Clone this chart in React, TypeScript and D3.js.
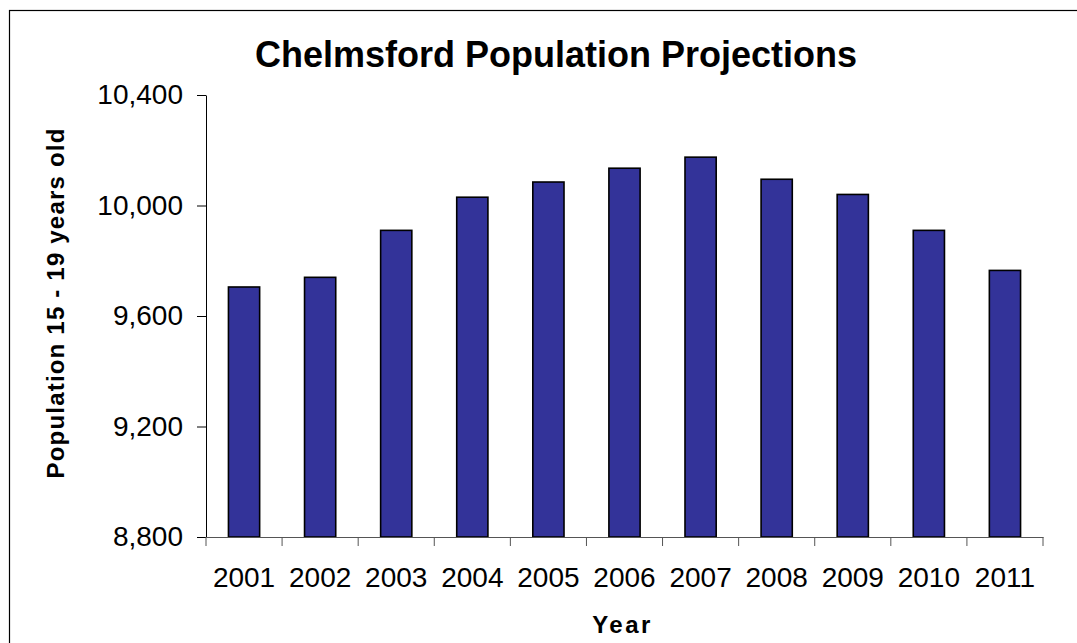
import React, { useRef, useEffect } from 'react';
import { select, scaleBand, scaleLinear, axisLeft, axisBottom, format } from 'd3';

// values
const years = ['2001', '2002', '2003', '2004', '2005', '2006', '2007', '2008', '2009', '2010', '2011'];
const population = [9705, 9740, 9910, 10030, 10085, 10135, 10175, 10095, 10040, 9910, 9765];
const yTicks = [8800, 9200, 9600, 10000, 10400];

const chartTitle = 'Chelmsford Population Projections';
const yTitle = 'Population 15 - 19 years old';
const xTitle = 'Year';

const width = 1077;
const height = 643;
const margin = { top: 95, right: 34, bottom: 106, left: 206 };
const font = "'Liberation Sans', Arial, sans-serif";

export default function App() {
  const svgRef = useRef<SVGSVGElement>(null);

  useEffect(() => {
    const svg = select(svgRef.current);
    svg.selectAll('*').remove();

    let innerWidth = width - margin.left - margin.right;
    let innerHeight = height - margin.top - margin.bottom;

    //Scales
    let xScale = scaleBand<string>()
      .domain(years)
      .range([0, innerWidth])
      .paddingInner(0.59)
      .paddingOuter(0.295);

    let yScale = scaleLinear()
      .domain([yTicks[0], yTicks[yTicks.length - 1]])
      .range([innerHeight, 0]);

    // outer frame (only top and left edges fall inside the picture)
    svg
      .append('rect')
      .attr('x', 9.5)
      .attr('y', 10.5)
      .attr('width', 1200)
      .attr('height', 800)
      .attr('fill', 'white')
      .attr('stroke', '#000')
      .attr('stroke-width', 1.2);

    // title
    svg
      .append('text')
      .attr('x', 556)
      .attr('y', 67)
      .attr('text-anchor', 'middle')
      .attr('font-family', font)
      .attr('font-weight', 'bold')
      .attr('font-size', 36)
      .text(chartTitle);

    const bounds = svg
      .append('g')
      .attr('transform', 'translate(' + margin.left + ',' + margin.top + ')');

    //bars
    bounds
      .append('g')
      .selectAll('rect')
      .data(population)
      .join('rect')
      .attr('x', (d, i) => xScale(years[i]) as number)
      .attr('y', d => yScale(d))
      .attr('width', xScale.bandwidth())
      .attr('height', d => innerHeight - yScale(d))
      .attr('fill', '#333399')
      .attr('stroke', '#000')
      .attr('stroke-width', 1.6);

    // y axis
    const yAxis = axisLeft(yScale)
      .tickValues(yTicks)
      .tickSize(9)
      .tickSizeOuter(0)
      .tickPadding(14)
      .tickFormat(format(','));

    const yG = bounds.append('g').attr('class', 'y-axis').call(yAxis);
    yG.selectAll('text').attr('font-family', font).attr('font-size', 28).attr('fill', '#000');
    yG.selectAll('line, path').attr('stroke', '#000');

    // x axis: labels from the band scale, ticks on the band boundaries
    const xAxis = axisBottom(xScale).tickSize(0).tickPadding(30);
    const xG = bounds
      .append('g')
      .attr('class', 'x-axis')
      .attr('transform', 'translate(0,' + innerHeight + ')')
      .call(xAxis);
    xG.select('.domain').attr('stroke', '#555');
    xG.selectAll('text').attr('font-family', font).attr('font-size', 28).attr('fill', '#000');

    const step = xScale.step();
    const edge0 = (xScale(years[0]) as number) - (step - xScale.bandwidth()) / 2;
    const boundaries = years.map((d, i) => edge0 + i * step).concat([edge0 + years.length * step]);

    xG.append('g')
      .selectAll('line')
      .data(boundaries)
      .join('line')
      .attr('x1', d => d)
      .attr('x2', d => d)
      .attr('y1', 0)
      .attr('y2', 9)
      .attr('stroke', '#555');

    // axis titles
    svg
      .append('text')
      .attr('transform', 'translate(64,303) rotate(-90)')
      .attr('text-anchor', 'middle')
      .attr('font-family', font)
      .attr('font-weight', 'bold')
      .attr('font-size', 24)
      .attr('letter-spacing', 1.2)
      .text(yTitle);

    svg
      .append('text')
      .attr('x', margin.left + innerWidth / 2 - 2)
      .attr('y', 633)
      .attr('text-anchor', 'middle')
      .attr('font-family', font)
      .attr('font-weight', 'bold')
      .attr('font-size', 24)
      .attr('letter-spacing', 2.5)
      .text(xTitle);
  }, []);

  return (
    <div className='chart'>
      <svg
        ref={svgRef}
        width={width}
        height={height}
        style={{ position: 'absolute', left: 0, top: 0, background: 'white' }}
      />
    </div>
  );
}
